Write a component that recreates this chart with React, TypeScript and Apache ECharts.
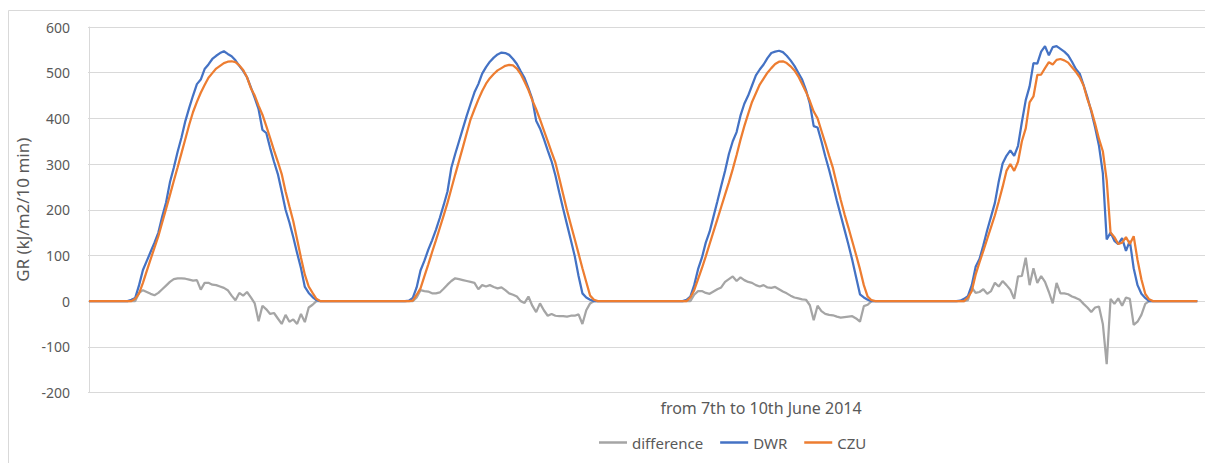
import React, { useEffect, useRef } from "react";
import * as echarts from "echarts";

// Global radiation (kJ/m2 per 10 min), 7th–10th June 2014.
// Each day is listed from its first daylight reading, one value every 20 minutes
// (two 10-minute steps); night readings are zero.
const STEPS_PER_DAY = 144;
const LAST_STEP = 575;
const SAMPLE_STRIDE = 2;
const dayStart = [20, 20, 20, 18];

const dwr1 = [0, 3, 7, 35, 68, 88, 108, 128, 150, 185, 216, 260, 292, 327, 358, 394, 423, 450, 475, 485, 508, 518, 530, 537, 543, 547, 541, 536, 527, 515, 504, 490, 468, 445, 420, 375, 368, 335, 305, 278, 240, 200, 172, 140, 105, 72, 31, 18, 9, 2, 0];
const dwr2 = [0, 1, 7, 30, 67, 88, 112, 133, 156, 182, 210, 240, 292, 322, 350, 378, 406, 432, 457, 475, 498, 512, 524, 533, 540, 544, 543, 539, 530, 519, 503, 488, 466, 442, 395, 378, 355, 330, 306, 275, 238, 202, 168, 134, 99, 55, 17, 8, 3, 0, 0];
const dwr3 = [0, 3, 10, 35, 70, 95, 128, 152, 185, 218, 252, 285, 322, 350, 370, 406, 432, 450, 472, 494, 507, 518, 532, 543, 546, 548, 545, 537, 527, 515, 500, 485, 462, 432, 383, 380, 350, 317, 287, 254, 220, 188, 156, 124, 90, 52, 15, 8, 3, 0, 0];
const dwr4 = [0, 1, 5, 11, 35, 75, 92, 122, 155, 185, 215, 262, 301, 318, 330, 318, 340, 392, 440, 470, 521, 520, 546, 558, 538, 556, 558, 552, 546, 538, 524, 508, 498, 473, 446, 415, 380, 340, 280, 135, 150, 132, 125, 138, 110, 132, 72, 35, 16, 7, 0, 0];

const czu1 = [0, 0, 5, 17, 40, 66, 92, 117, 142, 172, 202, 232, 263, 293, 324, 355, 386, 414, 436, 456, 473, 489, 499, 509, 515, 521, 524, 525, 523, 516, 506, 490, 466, 450, 428, 408, 383, 357, 330, 305, 278, 240, 207, 175, 135, 95, 58, 32, 18, 5, 0];
const czu2 = [0, 0, 1, 14, 28, 54, 80, 107, 133, 160, 187, 215, 246, 277, 307, 337, 368, 398, 420, 441, 460, 476, 488, 497, 505, 510, 515, 517, 516, 509, 497, 480, 462, 440, 420, 398, 374, 350, 326, 303, 269, 234, 199, 167, 136, 104, 72, 42, 12, 3, 0];
const czu3 = [0, 0, 8, 24, 48, 72, 98, 125, 152, 179, 206, 233, 260, 289, 320, 353, 383, 410, 436, 455, 474, 487, 500, 510, 519, 524, 525, 521, 514, 505, 492, 475, 458, 438, 415, 400, 373, 346, 318, 291, 256, 222, 190, 161, 131, 101, 70, 35, 10, 2, 0];
const czu4 = [0, 0, 0, 8, 22, 58, 85, 110, 136, 162, 188, 218, 250, 285, 300, 285, 305, 350, 378, 435, 448, 495, 496, 510, 523, 518, 528, 530, 527, 522, 512, 502, 490, 472, 442, 418, 388, 355, 328, 265, 150, 140, 125, 128, 140, 125, 142, 90, 48, 16, 4, 0];

const diff1 = [0, 0, 0, 18, 24, 20, 16, 13, 18, 26, 34, 42, 48, 50, 50, 49, 47, 45, 46, 25, 40, 40, 36, 35, 32, 29, 24, 12, 2, 18, 12, 20, 8, -5, -44, -10, -18, -28, -26, -38, -50, -30, -45, -40, -50, -28, -46, -14, -8, 0, 0];
const diff2 = [0, 0, 0, 8, 24, 22, 21, 17, 17, 19, 27, 36, 44, 50, 48, 46, 44, 42, 40, 26, 35, 32, 35, 31, 28, 30, 24, 17, 14, 10, 0, -4, 10, -10, -24, -5, -20, -32, -28, -32, -33, -33, -34, -32, -32, -29, -50, -20, -5, 0, 0];
const diff3 = [0, 0, 0, 14, 22, 22, 18, 16, 21, 26, 30, 42, 48, 54, 44, 52, 46, 42, 40, 35, 32, 35, 30, 29, 31, 26, 21, 17, 12, 8, 6, 4, 3, -9, -42, -10, -22, -28, -30, -31, -34, -36, -35, -34, -33, -38, -45, -11, -8, 0, 0];
const diff4 = [0, 0, 0, 2, 30, 18, 20, 26, 16, 22, 40, 32, 44, 35, 25, 5, 54, 55, 95, 35, 72, 40, 55, 42, 20, -5, 40, 17, 17, 15, 10, 7, 3, -6, -14, -24, -14, -12, -50, -138, 5, -6, 6, -10, 8, 5, -52, -45, -30, -6, 0, 0];

const yTicks = { min: -200, max: 600, interval: 100 };
const seriesNames = ["difference", "DWR", "CZU"];
const seriesColors = ["#A5A5A5", "#4472C4", "#ED7D31"];
const xTitle = "from 7th to 10th June 2014";
const yTitle = "GR (kJ/m2/10 min)";

function buildSeries(days: number[][]): number[][] {
  const pts: number[][] = [[0, 0]];
  days.forEach((vals, d) => {
    vals.forEach((v, k) => {
      pts.push([d * STEPS_PER_DAY + dayStart[d] + k * SAMPLE_STRIDE, v]);
    });
  });
  pts.push([LAST_STEP, 0]);
  return pts;
}

const FONT = "'Noto Sans', 'Open Sans', sans-serif";
const TEXT = "#595959";

export default function App() {
  const ref = useRef<HTMLDivElement>(null);

  useEffect(() => {
    if (!ref.current) return;
    const chart = echarts.init(ref.current, null, { renderer: "svg" });
    const data = [
      buildSeries([diff1, diff2, diff3, diff4]),
      buildSeries([dwr1, dwr2, dwr3, dwr4]),
      buildSeries([czu1, czu2, czu3, czu4]),
    ];
    chart.setOption({
      animation: false,
      backgroundColor: "#ffffff",
      textStyle: { fontFamily: FONT },
      grid: { left: 88, right: 0, top: 27, bottom: 70.5, outerBoundsMode: "none" },
      xAxis: {
        type: "value",
        min: -0.5,
        max: 579,
        show: false,
        splitLine: { show: false },
      },
      yAxis: {
        type: "value",
        min: yTicks.min,
        max: yTicks.max,
        interval: yTicks.interval,
        name: yTitle,
        nameLocation: "middle",
        nameGap: 55,
        nameTextStyle: { fontSize: 17, color: TEXT, fontFamily: FONT },
        axisLine: { show: true, lineStyle: { color: "#d9d9d9", width: 1 } },
        axisTick: { show: false },
        axisLabel: { color: TEXT, fontSize: 14, margin: 18, fontFamily: FONT },
        splitLine: { lineStyle: { color: "#d9d9d9", width: 1 } },
      },
      legend: {
        left: 594,
        top: 430,
        icon: "rect",
        itemWidth: 28,
        itemHeight: 2.5,
        itemGap: 17,
        textStyle: { fontSize: 15, color: TEXT, fontFamily: FONT },
        data: seriesNames,
      },
      graphic: [
        {
          type: "rect",
          silent: true,
          z: -10,
          shape: { x: 8.5, y: 10.5, width: 1300, height: 500 },
          style: { fill: "none", stroke: "#d9d9d9", lineWidth: 1 },
        },
        {
          type: "text",
          x: 761,
          y: 408,
          silent: true,
          style: {
            text: xTitle,
            align: "center",
            verticalAlign: "middle",
            fontSize: 16,
            fontFamily: FONT,
            fill: TEXT,
          },
        },
      ],
      series: seriesNames.map((name, i) => ({
        name,
        type: "line",
        data: data[i],
        symbol: "none",
        color: seriesColors[i],
        lineStyle: { color: seriesColors[i], width: 2.25 },
        z: 2 + i,
      })),
    });
    return () => chart.dispose();
  }, []);

  return (
    <div
      ref={ref}
      style={{ position: "absolute", left: 0, top: 0, width: 1205, height: 463, background: "#fff" }}
    />
  );
}
